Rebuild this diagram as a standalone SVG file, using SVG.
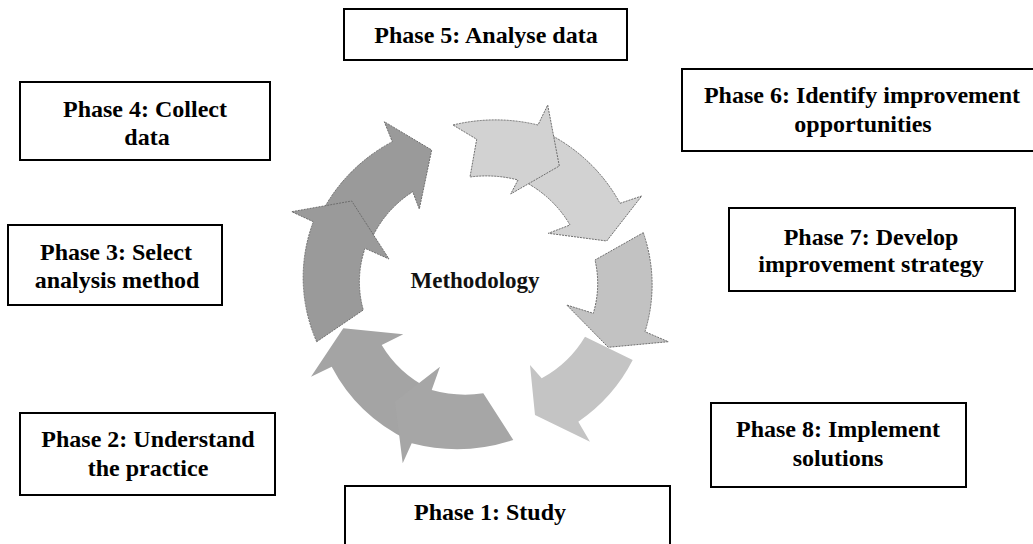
<svg xmlns="http://www.w3.org/2000/svg" width="1033" height="544" viewBox="0 0 1033 544">
<style>
.box{fill:#fff;stroke:#000;stroke-width:2}
.lbl{font-family:"Liberation Serif","Times New Roman",serif;font-weight:bold;font-size:24px;fill:#000;text-anchor:middle}
.ctr{font-family:"Liberation Serif","Times New Roman",serif;font-weight:bold;font-size:23px;fill:#111;text-anchor:middle}
.dash{stroke:#6e6e6e;stroke-width:1;stroke-dasharray:2 1;stroke-linejoin:round}
</style>
<rect width="1033" height="544" fill="#fff"/>
<g id="connectors">
  <path id="arrow-4" class="dash" fill="#9a9a9a" d="M321,214 A172,165 0 0 1 392.3,141.7 L384.3,121.7 L431.7,150 L419.3,209 L412.7,191.7 A117,110 0 0 0 371,240 Z"/>
  <path id="arrow-3" class="dash" fill="#9a9a9a" d="M316.7,341.7 A172,165 0 0 1 313.3,221.7 L291.7,211.7 L351.7,201 L389,259 L365,248.3 A117,110 0 0 0 363.3,310 Z"/>
  <path id="arrow-6" class="dash" fill="#d2d2d2" d="M545,132 A172,165 0 0 1 620,203.3 L641.7,196 L606.7,241 L548.3,233.3 L570,225 A117,110 0 0 0 527,183 Z"/>
  <path id="arrow-5" class="dash" fill="#d2d2d2" d="M453,125 A172,165 0 0 1 538,125 L547.7,105 L559.3,166 L510.7,194 L518,180 A117,110 0 0 0 470,177 L476.7,139.3 Z"/>
  <path id="arrow-7" class="dash" fill="#c2c2c2" d="M643.3,232.7 A172,165 0 0 1 645,331.7 L668.3,341.7 L608.3,347.3 L566.7,305 L593.3,313.3 A117,110 0 0 0 595,260 Z"/>
  <path id="arrow-8" fill="#c4c4c4" d="M632.7,360 A172,165 0 0 1 578.3,421.7 L590,441.7 L535,415 L530,365 L541.7,378.3 A117,110 0 0 0 585,336.7 Z"/>
  <path id="arrow-2" fill="#a4a4a4" d="M408,440 A172,165 0 0 1 331.7,366.7 L311,376.7 L343.3,328.3 L403.3,334.3 L381.7,345 A117,110 0 0 0 428,388 Z"/>
  <path id="arrow-1" fill="#a6a6a6" d="M513.3,440 A172,165 0 0 1 411.7,443.3 L402.7,463.3 L395,401.7 L440,366.7 L431.7,390 A117,110 0 0 0 483.3,393.3 Z"/>
</g>
<g id="methodology"><text class="ctr" x="475" y="288">Methodology</text></g>
<g id="phase5"><rect class="box" x="344" y="9" width="283" height="51"/><text class="lbl" x="486" y="43">Phase 5: Analyse data</text></g>
<g id="phase4"><rect class="box" x="20" y="82" width="250" height="78"/><text class="lbl" x="145" y="117">Phase 4: Collect</text><text class="lbl" x="147" y="145">data</text></g>
<g id="phase3"><rect class="box" x="8" y="225" width="214" height="80"/><text class="lbl" x="116" y="260">Phase 3: Select</text><text class="lbl" x="117" y="288">analysis method</text></g>
<g id="phase6"><rect class="box" x="682" y="69" width="353" height="82"/><text class="lbl" x="862" y="103">Phase 6: Identify improvement</text><text class="lbl" x="863" y="132">opportunities</text></g>
<g id="phase7"><rect class="box" x="729" y="208" width="286" height="83"/><text class="lbl" x="871" y="245">Phase 7: Develop</text><text class="lbl" x="871" y="272">improvement strategy</text></g>
<g id="phase2"><rect class="box" x="20" y="413" width="255" height="82"/><text class="lbl" x="148" y="447">Phase 2: Understand</text><text class="lbl" x="148" y="476">the practice</text></g>
<g id="phase8"><rect class="box" x="711" y="403" width="255" height="84"/><text class="lbl" x="838" y="437">Phase 8: Implement</text><text class="lbl" x="838" y="466">solutions</text></g>
<g id="phase1"><rect class="box" x="345" y="486" width="325" height="70"/><text class="lbl" x="490" y="520">Phase 1: Study</text></g>
</svg>
